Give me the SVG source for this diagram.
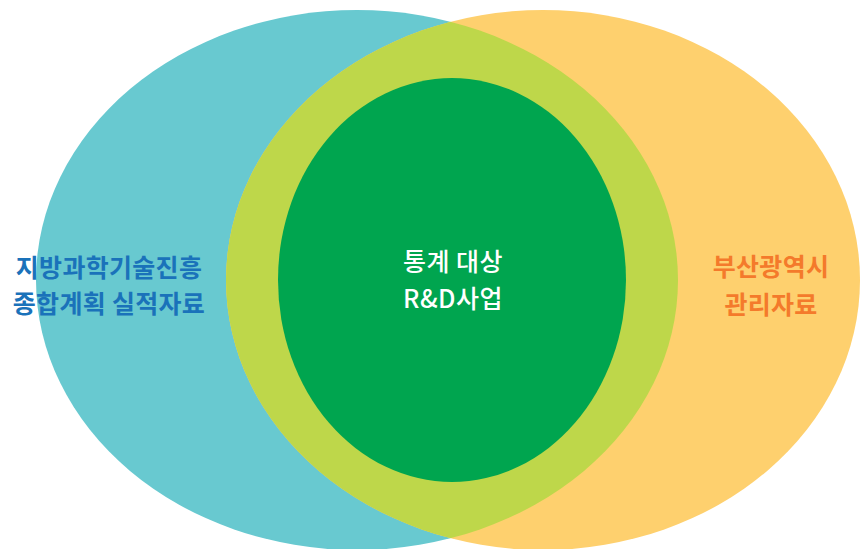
<svg xmlns="http://www.w3.org/2000/svg" width="861" height="549" viewBox="0 0 861 549">
  <defs>
    <clipPath id="clipLeft">
      <ellipse cx="357" cy="280" rx="321" ry="270"/>
    </clipPath>
    <style>
      .lbl { font-family: "Noto Sans CJK KR", "Noto Sans", sans-serif; font-size: 25px; text-anchor: middle; }
      .blue { fill: #1A72BA; font-weight: 700; letter-spacing: 0.3px; }
      .orange { fill: #F47A2B; font-weight: 700; letter-spacing: 0.3px; }
      .white { fill: #FFFFFF; font-weight: 500; letter-spacing: 0.5px; }
    </style>
  </defs>
  <rect width="861" height="549" fill="#FFFFFF"/>
  <g id="left-set">
    <ellipse cx="357" cy="280" rx="321" ry="270" fill="#68C9D0"/>
  </g>
  <g id="right-set">
    <ellipse cx="543" cy="280" rx="317" ry="270" fill="#FED06E"/>
  </g>
  <g id="intersection">
    <ellipse cx="543" cy="280" rx="317" ry="270" fill="#BED74A" clip-path="url(#clipLeft)"/>
  </g>
  <g id="core">
    <ellipse cx="452" cy="280" rx="174" ry="202" fill="#00A54F"/>
  </g>
  <g id="connectors"></g>
  <g id="label-left">
    <text class="lbl blue" x="109" y="277">지방과학기술진흥</text>
    <text class="lbl blue" x="109" y="313">종합계획 실적자료</text>
  </g>
  <g id="label-center">
    <text class="lbl white" x="453" y="271">통계 대상</text>
    <text class="lbl white" x="453" y="308">R&amp;D사업</text>
  </g>
  <g id="label-right">
    <text class="lbl orange" x="771" y="276">부산광역시</text>
    <text class="lbl orange" x="771" y="314">관리자료</text>
  </g>
</svg>
